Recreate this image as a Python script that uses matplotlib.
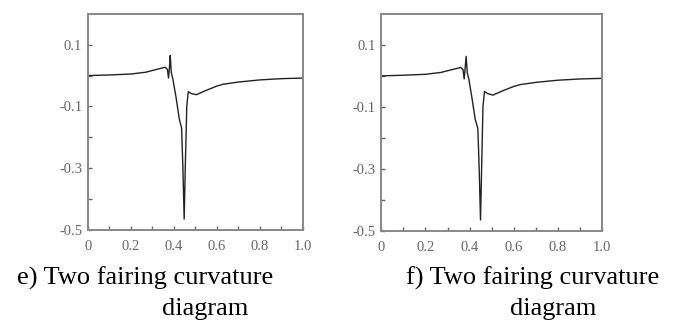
import numpy as np
import matplotlib.pyplot as plt

# curvature curves
x_e = [0.0, 0.1, 0.2, 0.27, 0.32, 0.36, 0.37, 0.375, 0.38, 0.383, 0.388, 0.395,
       0.41, 0.425, 0.436, 0.442, 0.448, 0.453, 0.46, 0.467, 0.48, 0.505, 0.55,
       0.6, 0.63, 0.7, 0.8, 0.9, 1.0]
y_e = [0.0, 0.002, 0.005, 0.011, 0.02, 0.027, 0.02, -0.008, 0.03, 0.065, 0.01, -0.01,
       -0.07, -0.14, -0.17, -0.3, -0.465, -0.3, -0.1, -0.052, -0.058, -0.062, -0.048,
       -0.034, -0.028, -0.021, -0.014, -0.01, -0.008]

x_f = [0.0, 0.1, 0.2, 0.27, 0.32, 0.36, 0.37, 0.375, 0.38, 0.384, 0.389, 0.396,
       0.41, 0.425, 0.437, 0.443, 0.449, 0.454, 0.46, 0.467, 0.48, 0.505, 0.55,
       0.6, 0.63, 0.7, 0.8, 0.9, 1.0]
y_f = [0.0, 0.002, 0.005, 0.011, 0.02, 0.027, 0.02, -0.01, 0.03, 0.063, 0.01, -0.01,
       -0.07, -0.14, -0.17, -0.3, -0.465, -0.3, -0.1, -0.05, -0.057, -0.062, -0.048,
       -0.034, -0.028, -0.021, -0.014, -0.01, -0.008]

cap_line1 = ["e) Two fairing curvature", "f) Two fairing curvature"]
cap_line2 = ["diagram", "diagram"]
xticks = [0, 0.2, 0.4, 0.6, 0.8, 1.0]
xtick_labels = ["0", "0.2", "0.4", "0.6", "0.8", "1.0"]
yticks = [0.1, -0.1, -0.3, -0.5]
ytick_labels = ["0.1", "-0.1", "-0.3", "-0.5"]

fig = plt.figure(figsize=(6.76, 3.22), dpi=100)
boxes = [[0.130, 0.286, 0.318, 0.671], [0.564, 0.283, 0.327, 0.674]]
cap1_x = [0.215, 0.788]
cap2_x = [0.303, 0.818]

for i, (box, xs, ys) in enumerate(zip(boxes, [x_e, x_f], [y_e, y_f])):
    ax = fig.add_axes(box)
    ax.plot(xs, ys, color='#222222', lw=1.0)
    ax.set_xlim(0, 1.0)
    ax.set_ylim(-0.5, 0.2)
    ax.set_xticks(xticks)
    ax.set_xticklabels(xtick_labels)
    ax.set_xticks(np.arange(0.1, 1.0, 0.2), minor=True)
    ax.set_yticks(yticks)
    ax.set_yticklabels(ytick_labels)
    ax.set_yticks([0.0, -0.2, -0.4], minor=True)
    ax.tick_params(which='both', direction='in', color='#666666', length=3,
                   width=1, labelsize=10.5, labelcolor='#666666')
    ax.tick_params(axis='x', pad=7)
    ax.tick_params(axis='y', pad=4)
    for lab in ax.get_xticklabels() + ax.get_yticklabels():
        lab.set_family('Liberation Serif')
    for sp in ax.spines.values():
        sp.set_color('#888888')
        sp.set_linewidth(1.4)
    fig.text(cap1_x[i], 0.115, cap_line1[i], ha='center', va='baseline',
             family='Liberation Serif', fontsize=19)
    fig.text(cap2_x[i], 0.022, cap_line2[i], ha='center', va='baseline',
             family='Liberation Serif', fontsize=19)

fig.savefig('out.png', dpi=100)
